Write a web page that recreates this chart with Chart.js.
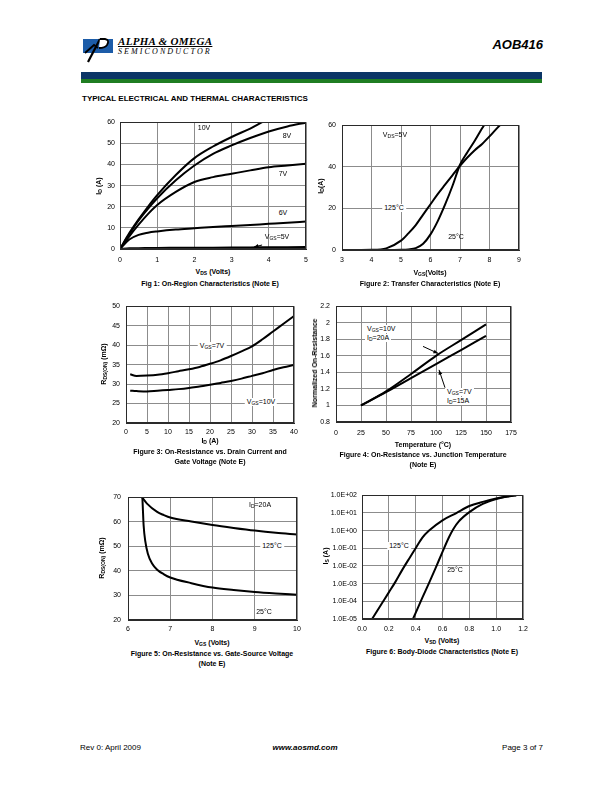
<!DOCTYPE html>
<html>
<head>
<meta charset="utf-8">
<script src="https://cdn.jsdelivr.net/npm/chart.js@4.4.1/dist/chart.umd.min.js"></script>
<style>
  body { margin: 0; width: 612px; height: 792px; position: relative; background: #fff; overflow: hidden;
         font-family: "Liberation Sans", Arial, sans-serif; color: #000; }
  canvas { position: absolute; }
  .t { position: absolute; white-space: nowrap; font-size: 7px; line-height: 8px; transform: translate(-50%, -50%); }
  .l { transform: translate(0, -50%); }
  .b { font-weight: bold; }
  .w { background: #fff; padding: 0 2px; }
  .t.rot { transform: translate(-50%, -50%) rotate(-90deg); }
  sub { font-size: 5px; vertical-align: -1px; line-height: 0; }
</style>
</head>
<body>
<!-- header -->
<svg style="position:absolute;left:83px;top:36px" width="32" height="28" viewBox="0 0 32 28">
  <rect x="0" y="3" width="30" height="14" fill="#1c5ca8"/>
  <path d="M5 26 L17 3" stroke="#000" stroke-width="2.2" fill="none"/>
  <path d="M2 17 L11 9 L15 12" stroke="#000" stroke-width="1.8" fill="none"/>
  <path d="M17 3 L22 3 Q27 4 24 9 Q22 12 16 12" stroke="#000" stroke-width="1.8" fill="#fff"/>
</svg>
<div style="position:absolute;left:118px;top:35px;font:italic bold 11px 'Liberation Serif',serif;text-decoration:underline;letter-spacing:0.3px">ALPHA &amp; OMEGA</div>
<div style="position:absolute;left:118px;top:47px;font:italic 8px 'Liberation Serif',serif;letter-spacing:2.1px">SEMICONDUCTOR</div>
<div style="position:absolute;right:69px;top:37px;font:italic bold 13px 'Liberation Sans',Arial,sans-serif">AOB416</div>
<div style="position:absolute;left:81px;top:72px;width:461px;height:8px;background:#0b3566"></div>
<div style="position:absolute;left:81px;top:79px;width:461px;height:4px;background:#1f7d22"></div>
<div style="position:absolute;left:82px;top:94px;font:bold 8px 'Liberation Sans',Arial,sans-serif">TYPICAL ELECTRICAL AND THERMAL CHARACTERISTICS</div>

<canvas id="fig1"></canvas>
<canvas id="fig2"></canvas>
<canvas id="fig3"></canvas>
<canvas id="fig4"></canvas>
<canvas id="fig5"></canvas>
<canvas id="fig6"></canvas>

<!-- fig 1 text -->
<div class="t rot b" style="left:99px;top:186px">I<sub>D</sub> (A)</div>
<div class="t b" style="left:213px;top:272px">V<sub>DS</sub> (Volts)</div>
<div class="t b" style="left:210px;top:284px">Fig 1: On-Region Characteristics (Note E)</div>
<div class="t" style="left:204px;top:128px">10V</div>
<div class="t" style="left:287px;top:136px">8V</div>
<div class="t" style="left:283px;top:174px">7V</div>
<div class="t w" style="left:283px;top:213px">6V</div>
<div class="t" style="left:277px;top:237px">V<sub>GS</sub>=5V</div>

<!-- fig 2 text -->
<div class="t rot b" style="left:321px;top:186px">I<sub>D</sub>(A)</div>
<div class="t b" style="left:430px;top:273px">V<sub>GS</sub>(Volts)</div>
<div class="t b" style="left:430px;top:284px">Figure 2: Transfer Characteristics (Note E)</div>
<div class="t" style="left:395px;top:135px">V<sub>DS</sub>=5V</div>
<div class="t w" style="left:394px;top:208px">125°C</div>
<div class="t" style="left:456px;top:237px">25°C</div>

<!-- fig 3 text -->
<div class="t rot b" style="left:104px;top:364px">R<sub>DS(ON)</sub> (mΩ)</div>
<div class="t b" style="left:210px;top:441px">I<sub>D</sub> (A)</div>
<div class="t b" style="left:210px;top:452px">Figure 3: On-Resistance vs. Drain Current and</div>
<div class="t b" style="left:210px;top:462px">Gate Voltage (Note E)</div>
<div class="t w" style="left:212px;top:346px">V<sub>GS</sub>=7V</div>
<div class="t w" style="left:261px;top:402px">V<sub>GS</sub>=10V</div>

<!-- fig 4 text -->
<div class="t rot b" style="left:315px;top:363px">Normalized On-Resistance</div>
<div class="t b" style="left:423px;top:445px">Temperature (°C)</div>
<div class="t b" style="left:423px;top:455px">Figure 4: On-Resistance vs. Junction Temperature</div>
<div class="t b" style="left:423px;top:465px">(Note E)</div>
<div class="t l w" style="left:365px;top:329px">V<sub>GS</sub>=10V</div>
<div class="t l w" style="left:365px;top:338px">I<sub>D</sub>=20A</div>
<div class="t l w" style="left:445px;top:392px">V<sub>GS</sub>=7V</div>
<div class="t l w" style="left:445px;top:401px">I<sub>D</sub>=15A</div>

<!-- fig 5 text -->
<div class="t rot b" style="left:102px;top:558px">R<sub>DS(ON)</sub> (mΩ)</div>
<div class="t b" style="left:212px;top:643px">V<sub>GS</sub> (Volts)</div>
<div class="t b" style="left:212px;top:654px">Figure 5: On-Resistance vs. Gate-Source Voltage</div>
<div class="t b" style="left:212px;top:664px">(Note E)</div>
<div class="t" style="left:260px;top:505px">I<sub>D</sub>=20A</div>
<div class="t w" style="left:272px;top:546px">125°C</div>
<div class="t" style="left:264px;top:612px">25°C</div>

<!-- fig 6 text -->
<div class="t rot b" style="left:326px;top:556px">I<sub>S</sub> (A)</div>
<div class="t b" style="left:442px;top:641px">V<sub>SD</sub> (Volts)</div>
<div class="t b" style="left:442px;top:652px">Figure 6: Body-Diode Characteristics (Note E)</div>
<div class="t w" style="left:399px;top:546px">125°C</div>
<div class="t" style="left:455px;top:570px">25°C</div>

<!-- footer -->
<div style="position:absolute;left:80px;top:743px;font-size:8px">Rev 0: April 2009</div>
<div style="position:absolute;left:305px;top:743px;transform:translateX(-50%);font:italic bold 8px 'Liberation Sans',Arial,sans-serif">www.aosmd.com</div>
<div style="position:absolute;right:69px;top:743px;font-size:8px">Page 3 of 7</div>

<script>
// Fig 1: On-region characteristics, ID vs VDS per VGS
const vdsSteps = [0, 0.25, 0.5, 0.75, 1, 1.5, 2, 2.5, 3, 3.5, 4, 4.5, 5];
const idVgs10 = [0, 7.5, 14, 20, 25.5, 35, 43, 48.5, 53, 57, 61.5, 64, 66];
const idVgs8 = [0, 7, 13.5, 19, 24, 32.5, 39.5, 45, 49, 52.5, 55.6, 58, 59.8];
const idVgs7 = [0, 6, 11.5, 16.5, 20.8, 27, 31.7, 34, 35.6, 37.2, 38.7, 39.5, 40.3];
const idVgs6 = [0, 4.5, 6.7, 7.7, 8.3, 9.2, 9.8, 10.4, 10.9, 11.4, 11.9, 12.4, 13];
const idVgs5 = [0, 0.3, 0.4, 0.45, 0.5, 0.55, 0.6, 0.65, 0.7, 0.75, 0.8, 0.85, 0.9];

// Fig 2: Transfer characteristics, ID vs VGS
const vgsSteps = [3, 4, 4.5, 5, 5.25, 5.5, 5.75, 6, 6.25, 6.5, 6.75, 7, 7.25, 7.5, 7.75, 8, 8.25, 8.5];
const idT25 = [0, 0, 0, 0.1, 0.3, 0.9, 3, 7.5, 14, 22, 31, 41, 47, 52.5, 58.5, 64, 69, 74];
const idT125 = [0, 0.1, 0.8, 4.5, 8, 12, 17, 22, 27, 31.5, 36, 40.5, 44.5, 48, 51, 54.6, 58.5, 62];

// Fig 3: RDS(on) vs ID
const idSteps = [1, 2.5, 5, 7.5, 10, 12.5, 15, 17.5, 20, 22.5, 25, 27.5, 30, 32.5, 35, 37.5, 40];
const rdsVgs7 = [32.5, 32.1, 32.2, 32.4, 32.8, 33.3, 33.8, 34.4, 35.2, 36.1, 37.2, 38.4, 39.7, 41.5, 43.5, 45.5, 47.5];
const rdsVgs10 = [28.3, 28.2, 28.1, 28.3, 28.5, 28.7, 29, 29.4, 29.8, 30.3, 30.8, 31.4, 32.1, 32.8, 33.6, 34.3, 34.9];

// Fig 4: normalized RDS(on) vs junction temperature
const tempSteps = [25, 50, 75, 100, 125, 150];
const normVgs10 = [1, 1.17, 1.38, 1.6, 1.79, 1.98];
const normVgs7 = [1, 1.16, 1.33, 1.5, 1.67, 1.84];

// Fig 5: RDS(on) vs VGS
const vgs125 = [6.33, 6.45, 6.69, 6.85, 7, 7.5, 8, 8.5, 9, 9.5, 10];
const rds125 = [70, 67.4, 64, 62.7, 61.7, 60.1, 58.7, 57.5, 56.4, 55.5, 54.8];
const vgs25 = [6.34, 6.35, 6.37, 6.41, 6.47, 6.57, 6.69, 6.85, 7, 7.5, 8, 8.5, 9, 9.5, 10];
const rds25 = [70, 66, 58.5, 52, 47, 43, 40.5, 38.6, 37.3, 35, 33.2, 32.2, 31.4, 30.8, 30.3];

// Fig 6: body diode IS vs VSD
const vsd25 = [0.38, 0.45, 0.5, 0.55, 0.6, 0.65, 0.68, 0.72, 0.8, 0.9, 1.0, 1.1, 1.15];
const is25 = [1e-5, 1.6e-4, 1.1e-3, 8e-3, 6.3e-2, 0.45, 1.2, 3.2, 11, 32, 60, 89, 100];
const vsd125 = [0.075, 0.15, 0.2, 0.25, 0.3, 0.35, 0.4, 0.45, 0.5, 0.6, 0.7, 0.8, 0.9, 1.0, 1.1, 1.15];
const is125 = [1e-5, 8e-5, 3.2e-4, 1.3e-3, 6e-3, 2.5e-2, 0.1, 0.4, 1.0, 3.8, 9.5, 24.5, 42, 65, 88, 100];
const diodeTicks = [1e-5, 1e-4, 1e-3, 1e-2, 1e-1, 1, 10, 100];

function pts(xs, ys) {
  return xs.map((x, i) => ({ x, y: ys[i] }));
}

function curve(xs, ys) {
  return {
    data: pts(xs, ys),
    borderColor: "#000",
    borderWidth: 2,
    pointRadius: 0,
    fill: false,
    cubicInterpolationMode: "monotone"
  };
}

// frame around plot + small arrows given in data units
const framePlugin = {
  id: "frame",
  afterDraw(chart, args, opts) {
    const { ctx, chartArea: a, scales } = chart;
    ctx.save();
    ctx.strokeStyle = "#2a2a2a";
    ctx.lineWidth = 1;
    ctx.strokeRect(Math.round(a.left) + 0.5, Math.round(a.top) + 0.5, Math.round(a.width) - 1, Math.round(a.height) - 1);
    (opts.arrows || []).forEach((ar) => {
      const x1 = scales.x.getPixelForValue(ar.from[0]), y1 = scales.y.getPixelForValue(ar.from[1]);
      const x2 = scales.x.getPixelForValue(ar.to[0]), y2 = scales.y.getPixelForValue(ar.to[1]);
      const ang = Math.atan2(y2 - y1, x2 - x1);
      ctx.strokeStyle = "#000";
      ctx.fillStyle = "#000";
      ctx.beginPath();
      ctx.moveTo(x1, y1);
      ctx.lineTo(x2, y2);
      ctx.stroke();
      ctx.beginPath();
      ctx.moveTo(x2, y2);
      ctx.lineTo(x2 - 5 * Math.cos(ang - 0.4), y2 - 5 * Math.sin(ang - 0.4));
      ctx.lineTo(x2 - 5 * Math.cos(ang + 0.4), y2 - 5 * Math.sin(ang + 0.4));
      ctx.closePath();
      ctx.fill();
    });
    ctx.restore();
  }
};

const tickFont = { family: "'Liberation Sans', Arial, sans-serif", size: 7 };

function axis(extra, pad, fmt) {
  const ticks = Object.assign({ color: "#000", font: tickFont, padding: pad, maxRotation: 0, minRotation: 0, autoSkip: false }, extra.ticks || {});
  if (fmt) ticks.callback = fmt;
  return Object.assign({
    type: "linear",
    grid: { color: "#8c8c8c", lineWidth: 1, drawTicks: false },
    border: { color: "#2a2a2a", width: 1 }
  }, extra, { ticks });
}

function makeChart(id, box, cfg) {
  const padL = 48, padR = 14, padT = 8, padB = 18;
  const canvas = document.getElementById(id);
  canvas.width = box.r - box.l + padL + padR;
  canvas.height = box.b - box.t + padT + padB;
  canvas.style.left = (box.l - padL) + "px";
  canvas.style.top = (box.t - padT) + "px";

  const x = axis(cfg.x, cfg.xPad, cfg.xFmt);
  x.afterFit = (s) => { s.height = padB; };
  const y = axis(cfg.y, cfg.yPad, cfg.yFmt);
  y.afterFit = (s) => { s.width = padL; };

  new Chart(canvas, {
    type: "line",
    data: { datasets: cfg.datasets },
    options: {
      responsive: false,
      animation: false,
      events: [],
      layout: { padding: { top: padT, right: padR, left: 0, bottom: 0 } },
      plugins: {
        legend: { display: false },
        tooltip: { enabled: false },
        frame: { arrows: cfg.arrows || [] }
      },
      scales: { x, y }
    },
    plugins: [framePlugin]
  });
}

makeChart("fig1", { l: 120, t: 121, r: 306, b: 249 }, {
  datasets: [
    curve(vdsSteps, idVgs10), curve(vdsSteps, idVgs8), curve(vdsSteps, idVgs7),
    curve(vdsSteps, idVgs6), curve(vdsSteps, idVgs5)
  ],
  x: { min: 0, max: 5, ticks: { stepSize: 1 } },
  y: { min: 0, max: 60, ticks: { stepSize: 10 } },
  xPad: 7, yPad: 5,
  arrows: [{ from: [3.82, 1.9], to: [3.6, 0.9] }]
});

makeChart("fig2", { l: 342, t: 123, r: 519, b: 250 }, {
  datasets: [curve(vgsSteps, idT25), curve(vgsSteps, idT125)],
  x: { min: 3, max: 9, ticks: { stepSize: 1 } },
  y: { min: 0, max: 60, ticks: { stepSize: 20 } },
  xPad: 6, yPad: 6
});

makeChart("fig3", { l: 126, t: 304, r: 294, b: 423 }, {
  datasets: [curve(idSteps, rdsVgs7), curve(idSteps, rdsVgs10)],
  x: { min: 0, max: 40, ticks: { stepSize: 5 } },
  y: { min: 20, max: 50, ticks: { stepSize: 5 } },
  xPad: 5, yPad: 6
});

makeChart("fig4", { l: 336, t: 304, r: 511, b: 422 }, {
  datasets: [curve(tempSteps, normVgs10), curve(tempSteps, normVgs7)],
  x: { min: 0, max: 175, ticks: { stepSize: 25 } },
  y: { min: 0.8, max: 2.2, ticks: { stepSize: 0.2 } },
  xPad: 7, yPad: 6,
  yFmt: (v) => String(Math.round(v * 10) / 10),
  arrows: [{ from: [87, 1.714], to: [102, 1.63] }, { from: [109, 1.215], to: [103, 1.43] }]
});

makeChart("fig5", { l: 128, t: 494, r: 297, b: 620 }, {
  datasets: [curve(vgs125, rds125), curve(vgs25, rds25)],
  x: { min: 6, max: 10, ticks: { stepSize: 1 } },
  y: { min: 20, max: 70, ticks: { stepSize: 10 } },
  xPad: 5, yPad: 7
});

makeChart("fig6", { l: 362, t: 494, r: 523, b: 619 }, {
  datasets: [curve(vsd125, is125), curve(vsd25, is25)],
  x: { min: 0, max: 1.2, ticks: { stepSize: 0.2 } },
  y: {
    type: "logarithmic", min: 1e-5, max: 100,
    afterBuildTicks: (s) => { s.ticks = diodeTicks.map((v) => ({ value: v })); }
  },
  xPad: 6, yPad: 5,
  xFmt: (v) => v.toFixed(1),
  yFmt: (v) => {
    const e = Math.round(Math.log10(v));
    return "1.0E" + (e < 0 ? "-" : "+") + String(Math.abs(e)).padStart(2, "0");
  }
});
</script>
</body>
</html>
